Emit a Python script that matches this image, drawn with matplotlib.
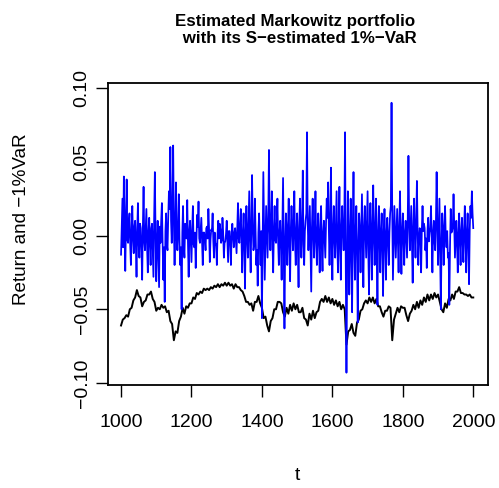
import numpy as np
import matplotlib
matplotlib.use("Agg")
import matplotlib.pyplot as plt

plt.rcParams['font.family'] = ['Liberation Sans', 'DejaVu Sans']

# portfolio returns in thousandths: days 1000, 1004, ... 2000
t_ret_a = np.arange(1000, 2001, 4)
ret_a_milli = [
    -13, 25, 40, -24, 38, -5, 15, -20, 20, -12,
    10, -28, 22, -15, 5, -30, 33, -10, 18, -25,
    12, -20, 8, -28, 43, -31, 10, -35, -5, 22,
    -30, -45, 15, -10, 30, 60, -5, 61, -20, 36,
    -10, 28, -20, -50, 20, -15, 5, 24, -28, 10,
    -18, 20, -8, -22, 14, 23, -5, 12, -20, 2,
    -10, 6, 18, -18, 4, 15, -15, -6, -20, 10,
    8, -5, 12, -15, -4, 10, -18, 3, -20, 8,
    -8, 5, -12, 22, -5, 18, -25, 15, -36, 20,
    -15, 30, -25, 41, -10, 25, -20, -34, 15, -20,
    -56, 43, -30, 20, -15, 58, -10, 30, -25, 20,
    -5, 25, -20, 10, -30, 39, -63, 15, -20, 25,
    -31, 20, -10, 30, -20, 15, -35, 25, -15, 44,
    -20, 10, 70, -10, 20, -38, 25, -15, 30, -20,
    15, -25, 20, -24, 10, -15, 25, 36, -20, 46,
    -30, 20, -15, 30, -25, 33, -30, 20, -10, 70,
    -93, 30, -40, 25, -52, 43, -30, 20, -59, 15,
    -25, 28, -35, 20, -15, 30, -40, 22, -30, 34,
    -20, 25, -47, 20, -25, 15, -41, 18, -30, 12,
    -20, 15, 90, -30, 20, -15, 18, -25, 30, -26,
    15, -20, 10, -15, 54, -10, 20, -32, 25, -15,
    37, -20, 5, -25, 20, 8, -10, -22, 12, 2,
    20, -25, 10, -10, 43, -20, 25, -50, 15, -20,
    20, -8, -15, -47, 18, 3, 28, -15, 10, -25,
    15, -20, 12, -18, 20, -25, 15, -33, 20, 30,
    5,
]

# portfolio returns in thousandths: days 1002, 1006, ... 1998
t_ret_b = np.arange(1002, 2000, 4)
ret_b_milli = [
    5, -8, 12, 6, -3, 8, -6, 4, -2, 6,
    -6, 4, -5, 8, -10, 6, -4, 5, -8, 3,
    -6, 5, -10, 12, 2, -8, -12, 6, 10, -4,
    -8, 3, -6, 12, 18, 10, 20, 8, 5, -2,
    6, -4, -8, 2, -6, 8, -2, -5, 3, -3,
    4, -6, 2, -4, 6, -2, 3, -5, 2, -3,
    5, -2, 4, -3, 3, -4, 2, -6, 1, -2,
    4, -3, 2, -5, 1, -4, 3, -6, 2, -1,
    2, -3, 6, -2, 8, -5, 2, -8, 4, -3,
    6, -4, 8, 5, -6, 4, -10, 2, -6, 3,
    -8, 6, -4, 2, 12, 5, 8, -6, 4, -3,
    8, -4, 2, -8, 6, -10, -6, 3, 5, -8,
    4, 6, 8, -5, 3, -8, 6, 2, 10, -6,
    3, 15, 8, 4, -10, 6, 2, 5, -4, 3,
    -6, 4, -8, 2, -3, 8, 12, 4, 10, -8,
    5, -3, 8, -6, 4, -8, 6, 2, 12, -20,
    -20, 5, -8, -10, 6, -6, 3, -12, -8, 4,
    3, -6, 4, 2, 8, -10, 5, -4, 8, -3,
    6, -12, 2, -4, 3, -10, 4, -8, 2, -3,
    2, 20, 15, -4, 3, 2, -5, 6, -2, 3,
    -3, 2, -2, 12, 10, 4, -8, 6, 2, 8,
    5, -3, 2, 4, 3, 5, -2, 3, -4, 5,
    -3, 2, -4, 10, 8, 4, -10, -6, 3, 4,
    -2, 3, -12, -8, 2, 6, 5, -3, -5, 2,
    -4, 3, -5, 4, -3, 2, -6, 4, 12, 15,
]

# minus the S-estimated 1% VaR in thousandths: days 1000, 1005, ... 2000
t_var = np.arange(1000, 2001, 5)
var_milli = [
    -61, -57, -56, -54, -55, -50, -49, -44, -42, -37,
    -41, -42, -48, -45, -44, -40, -40, -38, -43, -45,
    -51, -49, -50, -47, -49, -48, -52, -51, -58, -60,
    -71, -65, -66, -58, -55, -49, -53, -48, -49, -46,
    -46, -42, -43, -39, -40, -38, -39, -36, -37, -36,
    -37, -35, -36, -34, -35, -33, -35, -33, -34, -32,
    -34, -32, -34, -33, -36, -33, -35, -35, -37, -38,
    -41, -45, -45, -47, -46, -51, -45, -45, -41, -46,
    -49, -56, -55, -61, -65, -58, -56, -50, -50, -45,
    -45, -46, -52, -55, -49, -53, -47, -51, -46, -50,
    -47, -52, -52, -49, -56, -57, -61, -53, -57, -51,
    -56, -52, -51, -45, -43, -45, -41, -45, -42, -46,
    -43, -47, -44, -48, -45, -50, -47, -50, -74, -65,
    -64, -60, -66, -68, -59, -57, -51, -50, -46, -44,
    -46, -42, -45, -42, -46, -43, -48, -48, -52, -55,
    -51, -51, -48, -49, -71, -57, -53, -49, -52, -48,
    -49, -49, -54, -58, -53, -51, -47, -50, -45, -49,
    -44, -47, -42, -45, -40, -44, -40, -43, -39, -42,
    -40, -45, -50, -52, -46, -49, -43, -44, -40, -43,
    -38, -38, -35, -39, -39, -40, -40, -41, -40, -42,
    -42,
]

x_ticks = [1000, 1200, 1400, 1600, 1800, 2000]
y_ticks = [-0.10, -0.05, 0.00, 0.05, 0.10]
y_labels = ['\u22120.10', '\u22120.05', '0.00', '0.05', '0.10']

# merge the two return samplings into one series ordered by day
t_ret = np.concatenate([t_ret_a, t_ret_b])
ret = np.concatenate([ret_a_milli, ret_b_milli]) / 1000
order = np.argsort(t_ret)
t_ret, ret = t_ret[order], ret[order]
neg_var = np.array(var_milli) / 1000

W, H = 499, 488
fig = plt.figure(figsize=(W / 100, H / 100), dpi=100)
ax = fig.add_axes([108 / W, 1 - 384.5 / H, (487.7 - 108) / W, (384.5 - 82.7) / H])

ax.plot(t_var, neg_var, color='black', lw=1.4)
ax.plot(t_ret, ret, color='#0000ff', lw=1.25)

ax.set_xlim(963, 2041)
ax.set_ylim(-0.101, 0.1036)

ax.set_xticks(x_ticks)
ax.set_xticklabels([str(v) for v in x_ticks])
ax.set_yticks(y_ticks)
ax.set_yticklabels(y_labels, rotation=90, va='center')
ax.tick_params(axis='both', direction='out', length=8.5, width=1.0,
               labelsize=14, color='black')
ax.tick_params(axis='x', pad=13)
ax.tick_params(axis='y', pad=4)
for s in ax.spines.values():
    s.set_linewidth(1.3)

fig.text(297 / W, 1 - 30 / H,
         'Estimated Markowitz portfolio \n with its S\u2212estimated 1%\u2212VaR',
         ha='center', va='center', fontsize=12.2, fontweight='bold',
         multialignment='center', linespacing=1.15)
fig.text(297.7 / W, 1 - 475 / H, 't', ha='center', va='center', fontsize=14)
fig.text(21.7 / W, 1 - 219 / H, 'Return and \u22121%VaR', ha='center', va='center',
         rotation=90, fontsize=13.6)

fig.savefig('out.png', dpi=100)
